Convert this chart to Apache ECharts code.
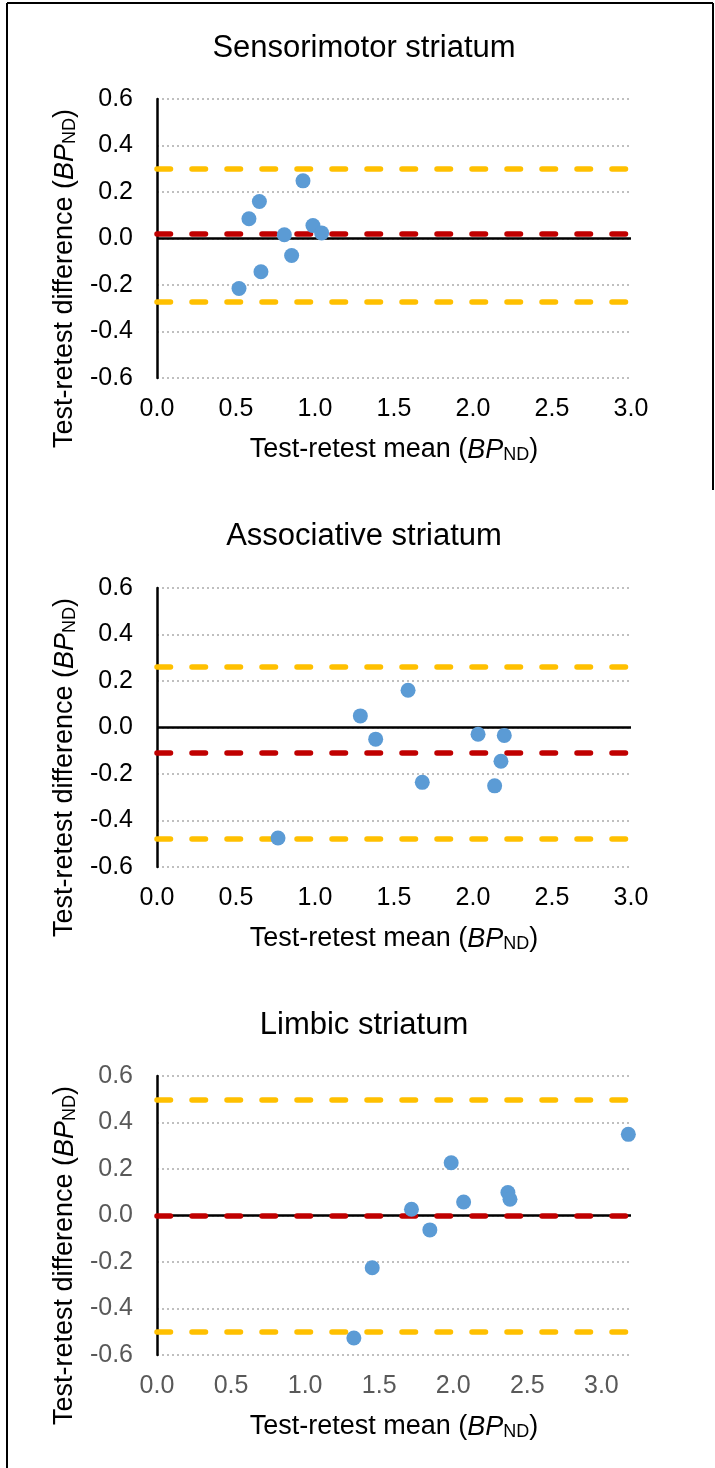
<!DOCTYPE html>
<html>
<head>
<meta charset="utf-8">
<script src="https://cdn.jsdelivr.net/npm/echarts@6/dist/echarts.min.js"></script>
<style>
  html, body { margin: 0; padding: 0; background: #fff; }
  #chart { width: 715px; height: 1468px; }
</style>
</head>
<body>
<div id="chart"></div>
<script>
// values
const panelTitles = ["Sensorimotor striatum", "Associative striatum", "Limbic striatum"];

const sensoriMean = [0.519, 0.582, 0.648, 0.658, 0.806, 0.852, 0.924, 0.987, 1.042];
const sensoriDiff = [-0.215, 0.085, 0.159, -0.143, 0.016, -0.073, 0.248, 0.056, 0.024];
const sensoriLimits = [0.300, 0.017, -0.267]; // upper LoA, bias, lower LoA

const assocMean = [0.766, 1.287, 1.384, 1.589, 1.679, 2.032, 2.137, 2.177, 2.198];
const assocDiff = [-0.475, 0.050, -0.050, 0.160, -0.236, -0.029, -0.251, -0.145, -0.034];
const assocLimits = [0.257, -0.113, -0.482];

const limbicMean = [1.329, 1.453, 1.718, 1.842, 1.986, 2.070, 2.369, 2.383, 3.182];
const limbicDiff = [-0.527, -0.225, 0.027, -0.062, 0.227, 0.058, 0.099, 0.070, 0.349];
const limbicLimits = [0.503, 0.002, -0.499];

const xMaxes = [3.0, 3.0, 3.2];
const tickColors = ["#000000", "#000000", "#595959"];

const FONT = "'Liberation Sans', Arial, sans-serif";
const gridTops = [99, 588, 1076];
const GRID_H = 279;

const panels = [
  { mean: sensoriMean, diff: sensoriDiff, limits: sensoriLimits },
  { mean: assocMean, diff: assocDiff, limits: assocLimits },
  { mean: limbicMean, diff: limbicDiff, limits: limbicLimits },
];

const nameRich = {
  n: { fontSize: 27, fontFamily: FONT, color: "#000", lineHeight: 28 },
  i: { fontSize: 27, fontFamily: FONT, color: "#000", fontStyle: "italic", lineHeight: 28 },
  s: { fontSize: 18, fontFamily: FONT, color: "#000", lineHeight: 14, verticalAlign: "bottom" },
};

const fmt = (v) => (Math.abs(v) < 1e-9 ? "0.0" : v.toFixed(1));

const dashStyle = (color) => ({ color, width: 5.5, type: [13.5, 21.5], cap: "round" });

const chart = echarts.init(document.getElementById("chart"), null, { renderer: "canvas" });

chart.setOption({
  backgroundColor: "#fff",
  animation: false,
  textStyle: { fontFamily: FONT },
  grid: gridTops.map((top) => ({ left: 157, width: 474, top, height: GRID_H })),
  xAxis: panels.map((p, k) => ({
    type: "value",
    gridIndex: k,
    min: 0,
    max: xMaxes[k],
    interval: 0.5,
    axisLine: { show: false },
    axisTick: { show: false },
    splitLine: { show: false },
    axisLabel: {
      fontSize: 25, color: tickColors[k], margin: 19, fontFamily: FONT,
      showMaxLabel: xMaxes[k] === 3.0, formatter: fmt,
    },
    name: "{n|Test-retest mean (}{i|BP}{s|ND}{n|)}",
    nameLocation: "middle",
    nameGap: 58,
    nameTextStyle: { rich: nameRich },
  })),
  yAxis: panels.map((p, k) => ({
    type: "value",
    gridIndex: k,
    min: -0.6,
    max: 0.6,
    interval: 0.2,
    axisLine: { show: true, lineStyle: { color: "#000", width: 2.5 } },
    axisTick: { show: false },
    splitLine: { show: true, lineStyle: { color: "#BFBFBF", width: 2, type: [2, 3] } },
    axisLabel: { fontSize: 25, color: tickColors[k], margin: 24, fontFamily: FONT, formatter: fmt },
    name: "{n|Test-retest difference (}{i|BP}{s|ND}{n|)}",
    nameLocation: "middle",
    nameGap: 74,
    nameTextStyle: { rich: nameRich, padding: [0, 80, 0, 0] },
  })),
  series: panels.flatMap((p, k) => [
    {
      // reference lines: zero, limits of agreement, mean bias
      type: "scatter",
      xAxisIndex: k,
      yAxisIndex: k,
      data: [],
      z: 2,
      markLine: {
        silent: true,
        symbol: ["none", "none"],
        label: { show: false },
        animation: false,
        data: [
          { yAxis: 0, lineStyle: { color: "#000", width: 2.5, type: "solid" } },
          { yAxis: p.limits[0], lineStyle: dashStyle("#FFC000") },
          { yAxis: p.limits[2], lineStyle: dashStyle("#FFC000") },
          { yAxis: p.limits[1], lineStyle: dashStyle("#C00000") },
        ],
      },
    },
    {
      type: "scatter",
      xAxisIndex: k,
      yAxisIndex: k,
      z: 5,
      symbolSize: 15,
      itemStyle: { color: "#5B9BD5", opacity: 1 },
      data: p.mean.map((m, i) => [m, p.diff[i]]),
    },
  ]),
  graphic: [
    ...panelTitles.map((t, k) => ({
      type: "text",
      x: 364,
      y: 48 + k * 488.5,
      style: { text: t, fontSize: 31, fontFamily: FONT, fill: "#000", align: "center", verticalAlign: "middle" },
    })),
    // figure frame
    { type: "line", shape: { x1: 7, y1: 3, x2: 7, y2: 1468 }, style: { stroke: "#000", lineWidth: 2 } },
    { type: "line", shape: { x1: 7, y1: 3, x2: 713, y2: 3 }, style: { stroke: "#000", lineWidth: 2 } },
    { type: "line", shape: { x1: 713, y1: 3, x2: 713, y2: 490 }, style: { stroke: "#000", lineWidth: 2 } },
  ],
});
</script>
</body>
</html>
